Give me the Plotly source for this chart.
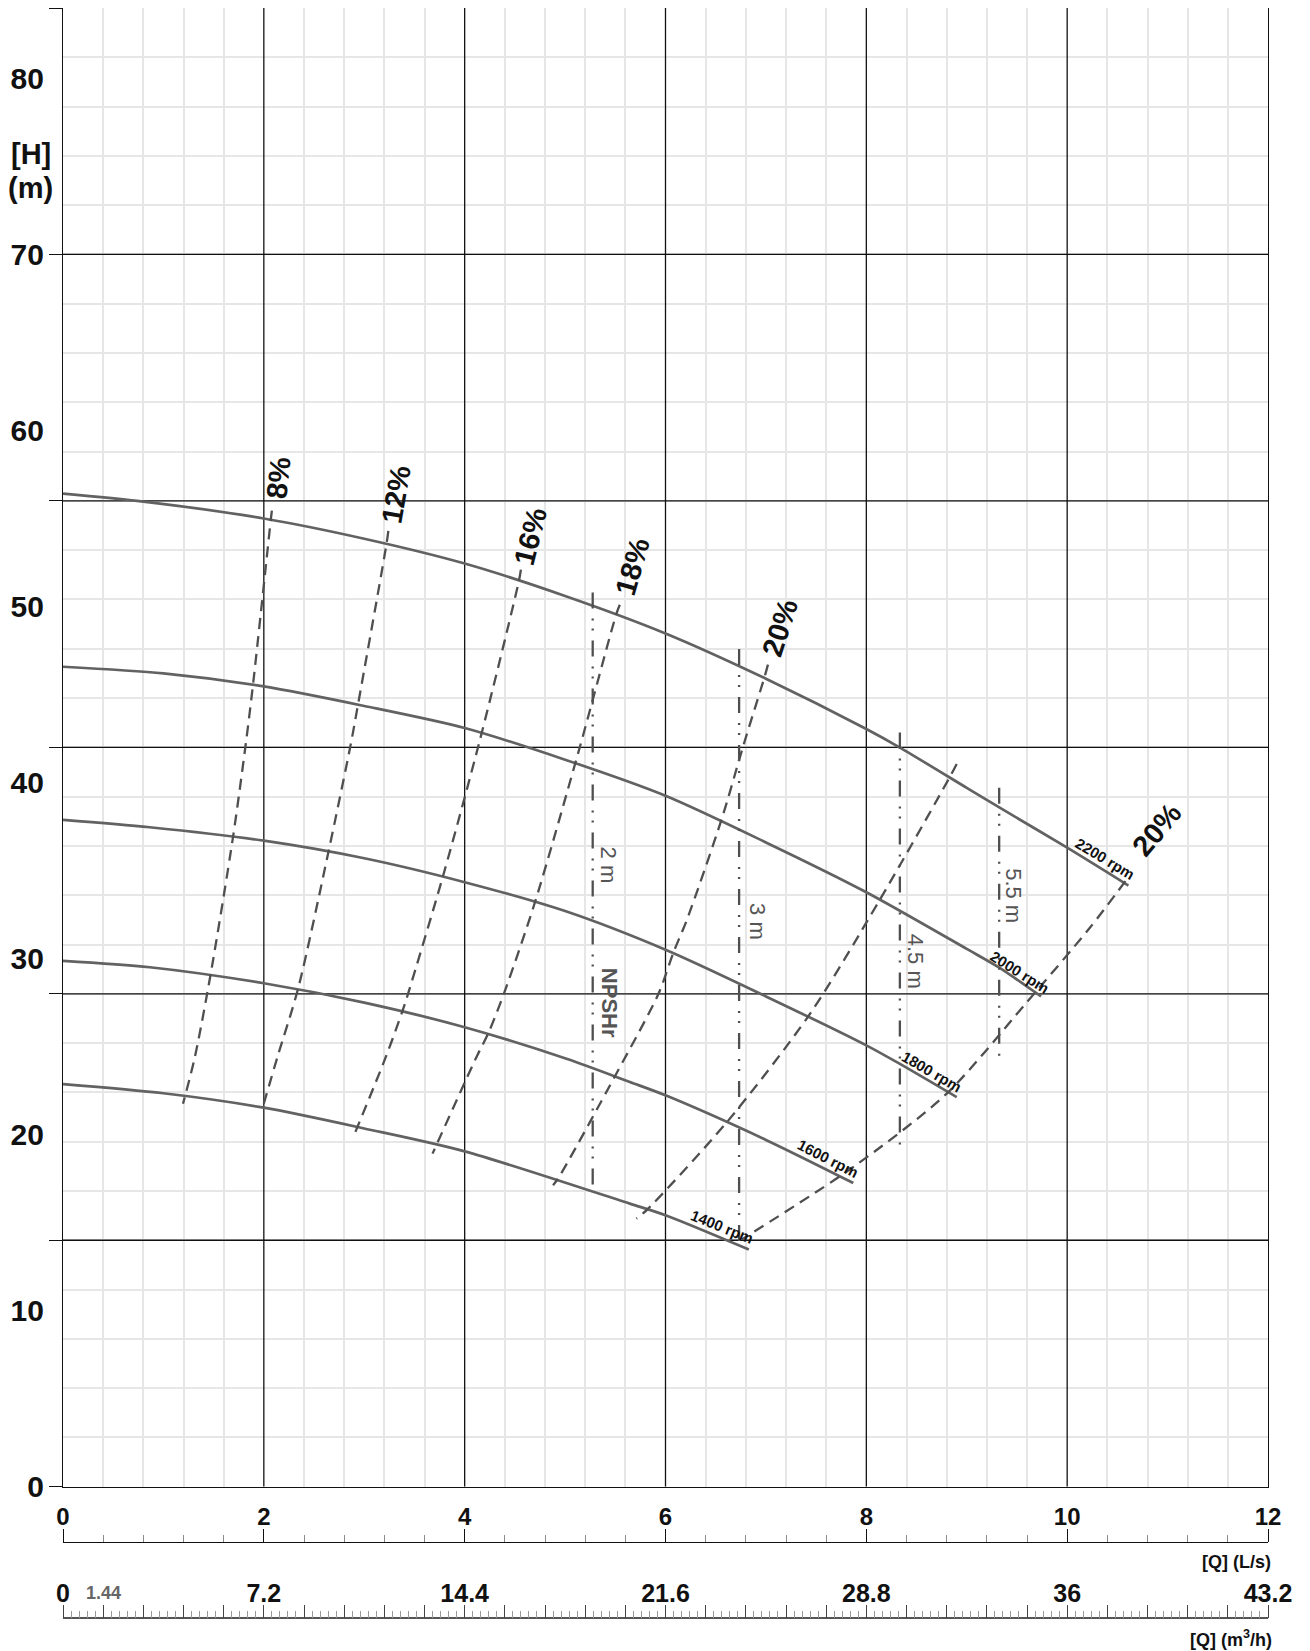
import plotly.graph_objects as go

# ---------------- data ----------------
# Pump H-Q curves at five speeds: flow Q in L/s, head H in m
Q_2200 = [0, 0.8, 2.0, 3.0, 4.0, 5.0, 6.0, 7.0, 8.0, 8.33, 9.0, 9.32, 10.0, 10.61]
H_2200 = [56.41, 55.96, 55.0, 53.85, 52.44, 50.6, 48.47, 45.9, 43.04, 42.0, 39.7, 38.6, 36.3, 34.15]
Q_2000 = [0, 1.0, 2.0, 3.0, 4.0, 5.0, 6.0, 7.0, 8.0, 9.0, 9.32, 9.74]
H_2000 = [46.58, 46.2, 45.46, 44.35, 43.1, 41.3, 39.25, 36.6, 33.77, 30.55, 29.5, 27.85]
Q_1800 = [0, 0.864, 2.0, 3.0, 4.0, 5.0, 6.0, 7.0, 8.0, 8.33, 8.9]
H_1800 = [37.88, 37.46, 36.7, 35.7, 34.34, 32.7, 30.5, 27.85, 25.07, 24.03, 22.13]
Q_1600 = [0, 0.864, 2.0, 3.0, 4.0, 5.014, 5.645, 6.0, 7.0, 7.87]
H_1600 = [29.87, 29.51, 28.6, 27.5, 26.1, 24.31, 22.99, 22.23, 19.7, 17.25]
Q_1400 = [0, 1.0, 2.0, 3.0, 4.0, 5.645, 6.0, 6.83]
H_1400 = [22.87, 22.35, 21.53, 20.35, 19.05, 16.08, 15.42, 13.47]

SPEED_Q = [Q_1400, Q_1600, Q_1800, Q_2000, Q_2200]
SPEED_H = [H_1400, H_1600, H_1800, H_2000, H_2200]
SPEED_LABELS = ["1400 rpm", "1600 rpm", "1800 rpm", "2000 rpm", "2200 rpm"]
SPEED_LABEL_Q = [6.558, 7.62, 8.65, 9.535, 10.375]
SPEED_LABEL_H = [14.76, 18.64, 23.61, 29.23, 35.66]
SPEED_LABEL_ANGLE = [22, 27, 30, 32, 31]

# Iso-efficiency lines (dashed)
Q_E8 = [2.08, 2.07, 1.893, 1.82, 1.693, 1.468, 1.313, 1.195]
H_E8 = [55.45, 54.96, 45.6, 42.19, 36.9, 29.04, 24.4, 21.75]
Q_E12 = [3.24, 3.22, 2.94, 2.866, 2.646, 2.341, 2.135, 1.99]
H_E12 = [54.3, 53.5, 44.5, 42.19, 36.13, 28.29, 24.4, 21.57]
Q_E16 = [4.56, 4.54, 4.15, 3.786, 3.436, 3.377, 3.214, 2.905]
H_E16 = [52.1, 51.45, 42.38, 34.72, 28.0, 26.96, 24.4, 20.06]
Q_E18 = [5.545, 5.51, 5.146, 4.70, 4.39, 4.233, 4.117, 3.68]
H_E18 = [50.1, 49.57, 42.0, 33.2, 28.0, 25.73, 24.4, 18.92]
Q_E20 = [7.02, 6.99, 6.77, 6.56, 6.21, 6.08, 5.93, 5.51, 4.93, 4.88]
H_E20 = [46.7, 46.07, 42.0, 37.93, 32.16, 30.36, 28.0, 23.46, 17.5, 17.12]
Q_E18R = [8.90, 8.83, 8.13, 7.44, 6.61, 5.81, 5.71]
H_E18R = [41.06, 40.3, 33.3, 26.87, 20.7, 15.7, 15.23]
Q_E20R = [10.58, 10.23, 9.58, 8.80, 7.87, 6.76]
H_E20R = [34.4, 31.78, 27.4, 22.33, 18.16, 14.05]
EFF_Q = [Q_E8, Q_E12, Q_E16, Q_E18, Q_E20, Q_E18R, Q_E20R]
EFF_H = [H_E8, H_E12, H_E16, H_E18, H_E20, H_E18R, H_E20R]

EFF_LABELS = ["8%", "12%", "16%", "18%", "20%", "20%"]
EFF_LABEL_Q = [2.148, 3.32, 4.655, 5.667, 7.145, 10.89]
EFF_LABEL_H = [57.29, 56.38, 54.01, 52.27, 48.81, 37.3]
EFF_LABEL_ANGLE = [-84, -80, -76, -74, -72, -50]

# NPSHr vertical lines
NPSH_Q = [5.275, 6.733, 8.334, 9.323]
NPSH_H_TOP = [50.8, 47.58, 42.85, 39.7]
NPSH_H_BOTTOM = [16.74, 13.43, 19.3, 24.4]
NPSH_LABELS = ["2 m", "3 m", "4.5 m", "5.5 m"]
NPSH_LABEL_Q = [5.435, 6.91, 8.49, 9.47]
NPSH_LABEL_H = [35.3, 32.08, 29.85, 33.55]
NPSHR_TITLE_Q = 5.445
NPSHR_TITLE_H = 27.5

# Axes tick labels
H_TICKS = [0, 10, 20, 30, 40, 50, 60, 70, 80]
H_MAJOR_GRID = [14, 28, 42, 56, 70]
H_EDGE_TICKS = [0, 14, 28, 42, 56, 70, 84]
Q_MAJOR_GRID = [2, 4, 6, 8, 10]
Q_LS_TICKS = [0, 2, 4, 6, 8, 10, 12]
M3H_LABELS = ["0", "7.2", "14.4", "21.6", "28.8", "36", "43.2"]

# ---------------- styling / geometry ----------------
FONT = "Liberation Sans, Arial, sans-serif"
PAGE_OFFSET = 8            # default body margin of the html page
W, HT = 1310 - PAGE_OFFSET, 1651 - PAGE_OFFSET
ML, MR, MT, MB = 55, 42, 0, 26
AREA_H = HT - MT - MB
PLOT_W = W - ML - MR
# positions below are page pixels (as measured on the reference)
PLOT_BOTTOM_PX = 1486.7
RULER1_PX = 1541.7
RULER2_PX = 1618.3


def paper_y(px_page):
    return (HT - MB - (px_page - PAGE_OFFSET)) / AREA_H


CURVE_COLOR = "#626262"
DASH_COLOR = "#4f4f4f"
LIGHT_GRID = "#e6e6e6"
DARK = "#111111"

fig = go.Figure()

for qs, hs in zip(SPEED_Q, SPEED_H):
    fig.add_trace(go.Scatter(x=qs, y=hs, mode="lines", line=dict(color=CURVE_COLOR, width=2.7, shape="spline", smoothing=0.8),
                             showlegend=False, hoverinfo="skip"))

for qs, hs in zip(EFF_Q, EFF_H):
    fig.add_trace(go.Scatter(x=qs, y=hs, mode="lines", line=dict(color=DASH_COLOR, width=2.3, dash="11px,7px", shape="spline", smoothing=0.8),
                             showlegend=False, hoverinfo="skip"))

for q, ht, hb in zip(NPSH_Q, NPSH_H_TOP, NPSH_H_BOTTOM):
    fig.add_trace(go.Scatter(x=[q, q], y=[ht, hb], mode="lines",
                             line=dict(color=DASH_COLOR, width=2.3, dash="16px,10px,2px,8px,2px,10px"),
                             showlegend=False, hoverinfo="skip"))

# dummy traces so that the ruler axes are created
fig.add_trace(go.Scatter(x=[None], y=[None], xaxis="x2", yaxis="y", showlegend=False, hoverinfo="skip"))
fig.add_trace(go.Scatter(x=[None], y=[None], xaxis="x3", yaxis="y", showlegend=False, hoverinfo="skip"))
fig.add_trace(go.Scatter(x=[None], y=[None], xaxis="x", yaxis="y2", showlegend=False, hoverinfo="skip"))

# dark grid lines
shapes = []
for q in Q_MAJOR_GRID:
    shapes.append(dict(type="line", xref="x", yref="y", x0=q, x1=q, y0=0, y1=84,
                       line=dict(color=DARK, width=1.3), layer="between"))
for h in H_MAJOR_GRID:
    shapes.append(dict(type="line", xref="x", yref="y", x0=0, x1=12, y0=h, y1=h,
                       line=dict(color=DARK, width=1.3), layer="between"))

annotations = []
for t, q, h, a in zip(EFF_LABELS, EFF_LABEL_Q, EFF_LABEL_H, EFF_LABEL_ANGLE):
    annotations.append(dict(text=t, x=q, y=h, xref="x", yref="y", showarrow=False, textangle=a,
                            font=dict(family=FONT, size=29, color="#111", weight="bold")))
for t, q, h, a in zip(SPEED_LABELS, SPEED_LABEL_Q, SPEED_LABEL_H, SPEED_LABEL_ANGLE):
    annotations.append(dict(text=t, x=q, y=h, xref="x", yref="y", showarrow=False, textangle=a,
                            font=dict(family=FONT, size=15, color="#111", weight="bold")))
for t, q, h in zip(NPSH_LABELS, NPSH_LABEL_Q, NPSH_LABEL_H):
    annotations.append(dict(text=t, x=q, y=h, xref="x", yref="y", showarrow=False, textangle=90,
                            font=dict(family=FONT, size=22, color="#555")))
annotations.append(dict(text="NPSHr", x=NPSHR_TITLE_Q, y=NPSHR_TITLE_H, xref="x", yref="y", showarrow=False, textangle=90,
                        font=dict(family=FONT, size=22, color="#555", weight="bold")))
# y axis title
annotations.append(dict(text="[H]", x=-31.6 / PLOT_W, y=75.72, xref="paper", yref="y", showarrow=False,
                        xanchor="center", yanchor="middle",
                        font=dict(family=FONT, size=29, color="#111", weight="bold")))
annotations.append(dict(text="(m)", x=-32.5 / PLOT_W, y=73.79, xref="paper", yref="y", showarrow=False,
                        xanchor="center", yanchor="middle",
                        font=dict(family=FONT, size=29, color="#111", weight="bold")))
# x axis titles
annotations.append(dict(text="[Q] (L/s)", x=1.0045, y=paper_y(1561.7), xref="paper", yref="paper", showarrow=False,
                        xanchor="right", yanchor="middle", font=dict(family=FONT, size=18, color="#111", weight="bold")))
annotations.append(dict(text="[Q] (m<sup>3</sup>/h)", x=1.0045, y=paper_y(1638.5), xref="paper", yref="paper", showarrow=False,
                        xanchor="right", yanchor="middle", borderpad=0,
                        font=dict(family=FONT, size=18, color="#111", weight="bold")))
annotations.append(dict(text="1.44", x=1.44, y=paper_y(1592.5), xref="x3", yref="paper", showarrow=False,
                        xanchor="center", yanchor="middle", font=dict(family=FONT, size=18, color="#666", weight="bold")))

m3h_vals = [round(k * 1.44, 2) for k in range(31)]
label_vals = [float(s) for s in M3H_LABELS]
m3h_text = [M3H_LABELS[label_vals.index(v)] if v in label_vals else "" for v in m3h_vals]

y_domain_bottom = paper_y(PLOT_BOTTOM_PX)

fig.update_layout(
    width=W, height=HT,
    margin=dict(l=ML, r=MR, t=MT, b=MB, pad=0, autoexpand=False),
    paper_bgcolor="white", plot_bgcolor="white",
    font=dict(family=FONT, color="#111"),
    showlegend=False,
    shapes=shapes,
    annotations=annotations,
    xaxis=dict(range=[0, 12], automargin=False, showline=True, mirror=True, linecolor=DARK, linewidth=1.3,
               ticks="", showticklabels=False, showgrid=False, zeroline=False, dtick=2,
               minor=dict(dtick=0.4, tick0=0, showgrid=True, gridcolor=LIGHT_GRID, gridwidth=1.5)),
    yaxis=dict(range=[0, 84], automargin=False, domain=[y_domain_bottom, 1], showline=True, mirror=True, linecolor=DARK, linewidth=1.3,
               tickmode="array", tickvals=H_TICKS, ticktext=[str(v) for v in H_TICKS],
               ticks="outside", ticklen=12, tickcolor="rgba(0,0,0,0)",
               tickfont=dict(family=FONT, size=30, color="#111", weight="bold"),
               showgrid=False, zeroline=False,
               minor=dict(dtick=2.8, tick0=0, showgrid=True, gridcolor=LIGHT_GRID, gridwidth=1.5)),
    yaxis2=dict(range=[0, 84], automargin=False, overlaying="y", anchor="x", side="left", showline=False,
                tickmode="array", tickvals=H_EDGE_TICKS, ticks="outside", ticklen=13, tickwidth=1.3, tickcolor=DARK,
                showticklabels=False, showgrid=False, zeroline=False),
    xaxis2=dict(range=[0, 12], automargin=False, overlaying="x", anchor="free", position=paper_y(RULER1_PX), side="top",
                showline=True, linecolor=DARK, linewidth=1.3, showgrid=False, zeroline=False,
                tickmode="array", tickvals=Q_LS_TICKS, ticktext=[str(v) for v in Q_LS_TICKS],
                ticks="outside", ticklen=13, tickwidth=1.3, tickcolor=DARK, ticklabelstandoff=-6,
                tickfont=dict(family=FONT, size=24, color="#111", weight="bold"),
                minor=dict(dtick=0.4, tick0=0, ticks="outside", ticklen=7, tickwidth=1.2, tickcolor="#8a8a8a", showgrid=False)),
    xaxis3=dict(range=[0, 43.2], automargin=False, overlaying="x", anchor="free", position=paper_y(RULER2_PX), side="top",
                showline=True, linecolor="#555", linewidth=1.5, showgrid=False, zeroline=False,
                tickmode="array", tickvals=m3h_vals, ticktext=m3h_text,
                ticks="outside", ticklen=13, tickwidth=1.3, tickcolor="#444", ticklabelstandoff=-7,
                tickfont=dict(family=FONT, size=25, color="#111", weight="bold"),
                minor=dict(dtick=0.288, tick0=0, ticks="outside", ticklen=7, tickwidth=1, tickcolor="#999", showgrid=False)),
)

fig.write_html("out.html")
